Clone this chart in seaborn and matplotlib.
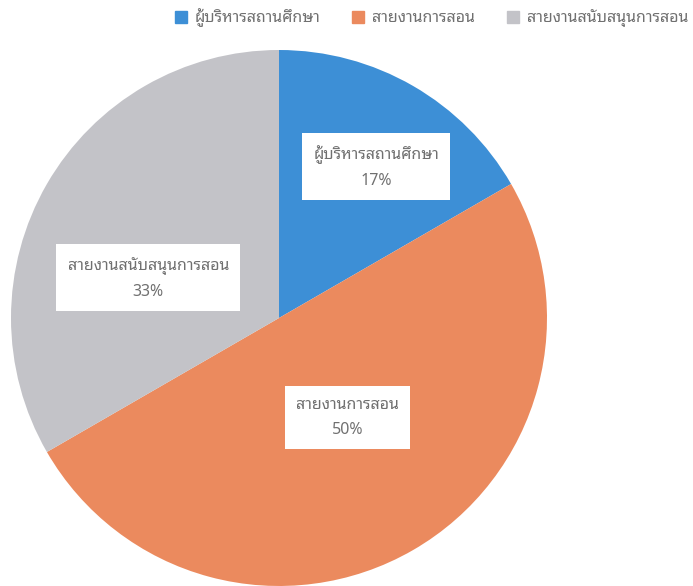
import numpy as np
import matplotlib.pyplot as plt
import seaborn as sns

categories = ['ผู้บริหารสถานศึกษา', 'สายงานการสอน', 'สายงานสนับสนุนการสอน']
counts = [1, 3, 2]
colors = ['#3d8fd6', '#eb8a5e', '#c3c3c8']

sns.set_theme(style='white')
plt.rcParams['font.family'] = ['Noto Sans Thai Looped', 'DejaVu Sans']

fig = plt.figure(figsize=(6.93, 5.86), dpi=100)
ax = fig.add_axes([11 / 693, 0, 536 / 693, 536 / 586])

wedges, _ = ax.pie(counts, colors=colors, startangle=90, counterclock=False,
                   wedgeprops=dict(linewidth=0))
ax.set_xlim(-1, 1)
ax.set_ylim(-1, 1)
ax.set_aspect('equal')

total = sum(counts)
# label placement: (radius fraction, angle shift in degrees)
place = [(0.67, -2.7), (0.45, 4.6), (0.51, 13)]
for w, name, c, (rf, shift) in zip(wedges, categories, counts, place):
    mid = np.deg2rad((w.theta1 + w.theta2) / 2 + shift)
    x, y = rf * np.cos(mid), rf * np.sin(mid)
    ax.text(x, y, f'{name}\n{c / total:.0%}', ha='center', va='center',
            fontsize=11.5, color='#707070', linespacing=1.75,
            bbox=dict(boxstyle='square,pad=0.7', fc='white', ec='none'))

handles = [plt.Rectangle((0, 0), 1, 1, color=c) for c in colors]
fig.legend(handles, categories, loc='upper right', bbox_to_anchor=(1.014, 1.01),
           ncol=3, frameon=False, fontsize=11.5, handlelength=0.75, handleheight=0.75,
           handletextpad=0.5, columnspacing=2.0, labelcolor='#707070')

fig.savefig('out.png', dpi=100)
